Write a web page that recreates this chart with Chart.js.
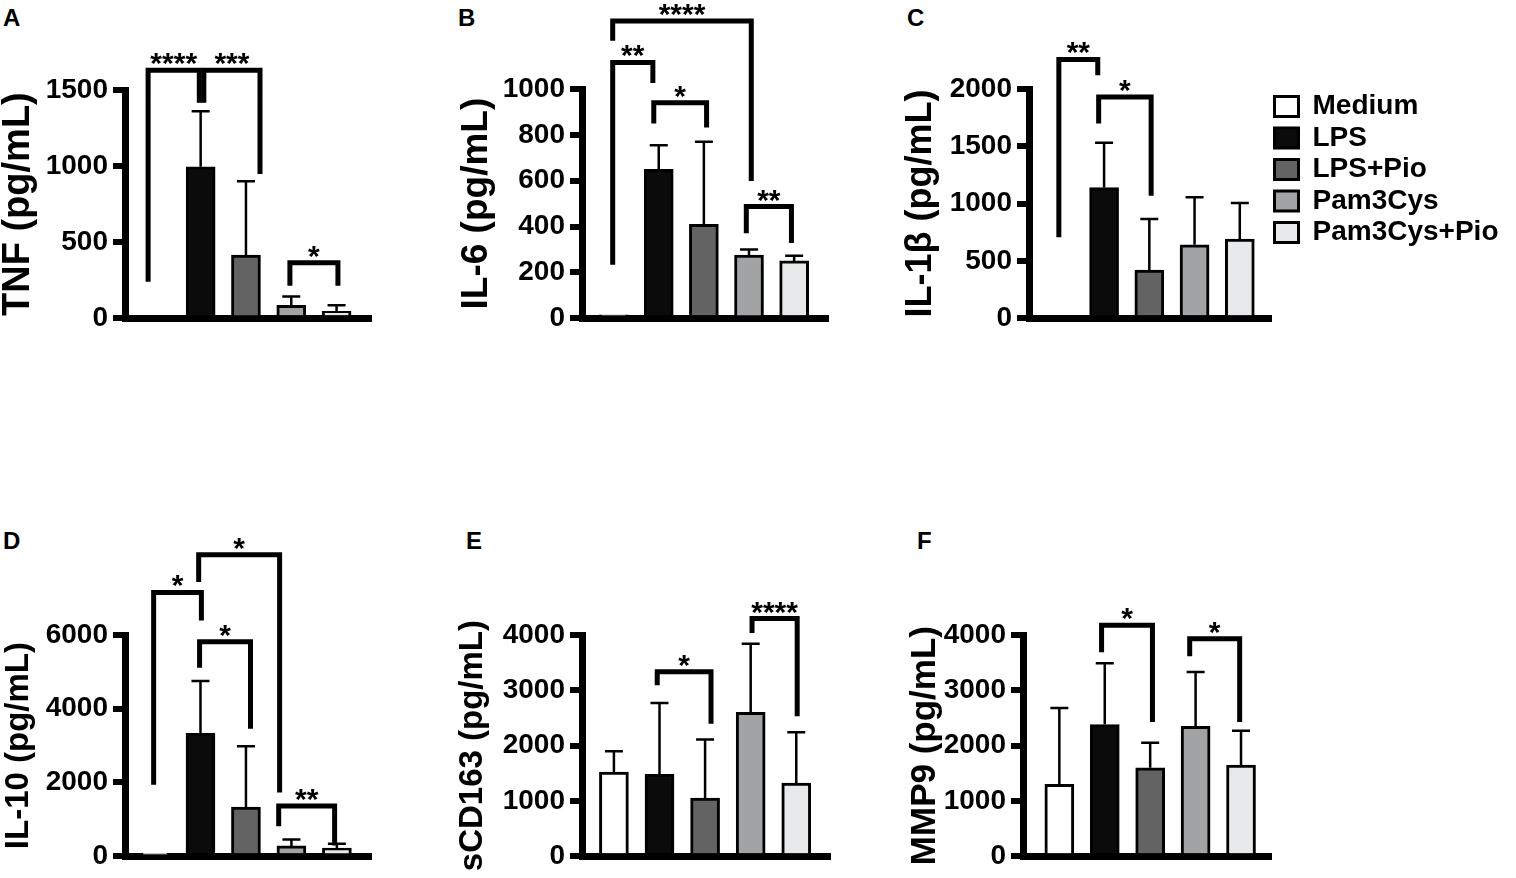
<!DOCTYPE html>
<html>
<head>
<meta charset="utf-8">
<script src="https://cdn.jsdelivr.net/npm/chart.js@4.4.1/dist/chart.umd.min.js"></script>
<style>
  body { margin: 0; background: #fff; }
  #fig { position: relative; width: 1516px; height: 878px; overflow: hidden; }
  canvas { position: absolute; }
  .tag { position: absolute; font: bold 24px "Liberation Sans", Arial, sans-serif; color: #000; }
</style>
</head>
<body>
<div id="fig">
  <div class="tag" style="left:3px;top:4px">A</div>
  <div class="tag" style="left:458px;top:4px">B</div>
  <div class="tag" style="left:907px;top:4px">C</div>
  <div class="tag" style="left:3px;top:527px">D</div>
  <div class="tag" style="left:466px;top:527px">E</div>
  <div class="tag" style="left:917px;top:527px">F</div>
  <canvas id="pA" width="380" height="340" style="left:0;top:0"></canvas>
  <canvas id="pB" width="390" height="340" style="left:450px;top:0"></canvas>
  <canvas id="pC" width="616" height="340" style="left:900px;top:0"></canvas>
  <canvas id="pD" width="380" height="358" style="left:0;top:520px"></canvas>
  <canvas id="pE" width="390" height="358" style="left:450px;top:520px"></canvas>
  <canvas id="pF" width="380" height="358" style="left:900px;top:520px"></canvas>
</div>
<script>
// groups, same order in every panel
const groups = ['Medium', 'LPS', 'LPS+Pio', 'Pam3Cys', 'Pam3Cys+Pio']
const fills = ['#ffffff', '#0b0b0b', '#636363', '#a2a3a5', '#e8e9ea']

// mean and SD (pg/mL)
const tnfMean = [0, 995, 415, 85, 45]
const tnfSd = [0, 365, 485, 58, 40]
const il6Mean = [15, 650, 410, 275, 250]
const il6Sd = [0, 105, 360, 25, 22]
const il1bMean = [0, 1140, 420, 640, 690]
const il1bSd = [0, 390, 445, 415, 315]
const il10Mean = [40, 3330, 1330, 280, 220]
const il10Sd = [0, 1420, 1650, 170, 120]
const cd163Mean = [1520, 1480, 1050, 2600, 1320]
const cd163Sd = [380, 1290, 1060, 1240, 920]
const mmp9Mean = [1300, 2380, 1600, 2350, 1650]
const mmp9Sd = [1380, 1110, 450, 980, 620]

// significance brackets: [from group, to group, bar level, left leg end, right leg end, label]
const tnfSig = [
  [-0.16, 0.97, 1630, 240, 1416, '****'],
  [1.07, 2.31, 1630, 1416, 948, '***'],
  [2.97, 4.03, 364, 214, 214, '*']
]
const il6Sig = [
  [-0.02, 3.05, 1297, 1211, 599, '****'],
  [-0.02, 0.87, 1116, 233, 1026, '**'],
  [0.89, 2.06, 940, 850, 832, '*'],
  [2.94, 3.94, 487, 371, 328, '**']
]
const il1bSig = [
  [0, 0.86, 2258, 707, 2121, '**'],
  [0.88, 2.04, 1931, 1698, 1069, '*']
]
const il10Sig = [
  [0.96, 2.74, 8174, 7441, 1729, '*'],
  [-0.03, 1.02, 7153, 1939, 6393, '*'],
  [0.98, 2.1, 5816, 5109, 3458, '*'],
  [2.72, 3.95, 1362, 812, 288, '**']
]
const cd163Sig = [
  [0.95, 2.13, 3337, 3092, 2393, '*'],
  [3.03, 4.02, 4297, 4035, 2533, '****']
]
const mmp9Sig = [
  [0.93, 2.05, 4175, 3686, 2428, '*'],
  [2.87, 3.97, 3931, 3616, 2428, '*']
]

Chart.defaults.font.family = '"Liberation Sans", Arial, sans-serif'
Chart.defaults.font.weight = 'bold'
Chart.defaults.color = '#000'

// upward SD whiskers with a cap
const errorBars = {
  id: 'errorBars',
  afterDatasetsDraw(chart) {
    const ctx = chart.ctx
    const y = chart.scales.y
    const ds = chart.data.datasets[0]
    chart.getDatasetMeta(0).data.forEach((bar, i) => {
      const sd = ds.sd[i]
      if (!sd) return
      const top = y.getPixelForValue(ds.data[i].y + sd)
      ctx.save()
      ctx.strokeStyle = '#000'
      ctx.lineWidth = 2.5
      ctx.beginPath()
      ctx.moveTo(bar.x, bar.y)
      ctx.lineTo(bar.x, top)
      ctx.moveTo(bar.x - 9, top)
      ctx.lineTo(bar.x + 9, top)
      ctx.stroke()
      ctx.restore()
    })
  }
}

// comparison brackets with stars
const brackets = {
  id: 'brackets',
  afterDraw(chart, args, opts) {
    const ctx = chart.ctx
    const xs = chart.scales.x, ys = chart.scales.y
    ctx.save()
    ctx.strokeStyle = '#000'
    ctx.fillStyle = '#000'
    ctx.lineWidth = 5
    ctx.lineJoin = 'miter'
    ctx.font = 'bold 30px "Liberation Sans", Arial, sans-serif'
    ctx.textAlign = 'center'
    ctx.textBaseline = 'alphabetic'
    opts.items.forEach(b => {
      const x1 = xs.getPixelForValue(b[0]), x2 = xs.getPixelForValue(b[1])
      const yt = ys.getPixelForValue(b[2])
      ctx.beginPath()
      ctx.moveTo(x1, ys.getPixelForValue(b[3]))
      ctx.lineTo(x1, yt)
      ctx.lineTo(x2, yt)
      ctx.lineTo(x2, ys.getPixelForValue(b[4]))
      ctx.stroke()
      ctx.fillText(b[5], (x1 + x2) / 2, yt + 3)
    })
    ctx.restore()
  }
}

function makePanel(id, p) {
  const legend = p.legend ? {
    display: true,
    position: 'right',
    align: 'start',
    maxWidth: 300,
    labels: {
      boxWidth: 24,
      boxHeight: 20,
      padding: 3.5,
      color: '#000',
      font: { size: 28, weight: 'bold' },
      generateLabels: () => groups.map((g, i) => ({
        text: g, fillStyle: fills[i], strokeStyle: '#000', lineWidth: 3,
        hidden: false, index: i, fontColor: '#000'
      }))
    }
  } : { display: false }

  new Chart(document.getElementById(id), {
    type: 'bar',
    data: {
      datasets: [{
        data: p.mean.map((v, i) => ({ x: i, y: v })),
        sd: p.sd,
        backgroundColor: fills,
        borderColor: '#000',
        borderWidth: 3,
        borderSkipped: 'bottom',
        barThickness: 29
      }]
    },
    options: {
      responsive: false,
      animation: false,
      layout: { padding: p.pad },
      plugins: {
        legend: legend,
        tooltip: { enabled: false },
        brackets: { items: p.sig }
      },
      scales: {
        x: {
          type: 'linear',
          offset: false,
          min: p.xMin,
          max: p.xMax,
          ticks: { display: false },
          grid: { display: false },
          border: { display: true, width: 7, color: '#000' },
          afterFit: s => { s.height = 0 }
        },
        y: {
          min: 0,
          max: p.max,
          ticks: {
            stepSize: p.step, padding: 5, color: '#000',
            font: { size: 28, weight: 'bold' },
            callback: v => String(v)
          },
          grid: { drawOnChartArea: false, drawTicks: true, tickLength: 12, lineWidth: 6, color: '#000' },
          border: { display: true, width: 7, color: '#000' },
          title: { display: true, text: p.title, color: '#000', padding: 0, font: { size: p.titleSize, weight: 'bold', lineHeight: 1 } },
          afterFit: s => { s.width = p.yWidth }
        }
      }
    },
    plugins: [errorBars, brackets]
  })
}

makePanel('pA', { mean: tnfMean, sd: tnfSd, sig: tnfSig, title: 'TNF (pg/mL)', titleSize: 38,
  max: 1500, step: 500, pad: { top: 90, bottom: 19, left: 0, right: 9 }, yWidth: 125, xMin: -0.67, xMax: 4.76 })
makePanel('pB', { mean: il6Mean, sd: il6Sd, sig: il6Sig, title: 'IL-6 (pg/mL)', titleSize: 37,
  max: 1000, step: 200, pad: { top: 89, bottom: 19, left: 8, right: 12 }, yWidth: 124, xMin: -0.70, xMax: 4.75 })
makePanel('pC', { mean: il1bMean, sd: il1bSd, sig: il1bSig, title: 'IL-1β (pg/mL)', titleSize: 36, legend: true,
  max: 2000, step: 500, pad: { top: 89, bottom: 19, left: 3, right: 7.5 }, yWidth: 126, xMin: -0.66, xMax: 4.69 })
makePanel('pD', { mean: il10Mean, sd: il10Sd, sig: il10Sig, title: 'IL-10 (pg/mL)', titleSize: 33,
  max: 6000, step: 2000, pad: { top: 115, bottom: 14, left: 2, right: 9 }, yWidth: 123, xMin: -0.66, xMax: 4.75 })
makePanel('pE', { mean: cd163Mean, sd: cd163Sd, sig: cd163Sig, title: 'sCD163 (pg/mL)', titleSize: 33,
  max: 4000, step: 1000, pad: { top: 115, bottom: 14, left: 6, right: 10 }, yWidth: 126, xMin: -0.70, xMax: 4.74 })
makePanel('pF', { mean: mmp9Mean, sd: mmp9Sd, sig: mmp9Sig, title: 'MMP9 (pg/mL)', titleSize: 35,
  max: 4000, step: 1000, pad: { top: 115, bottom: 14, left: 8, right: 9 }, yWidth: 115, xMin: -0.80, xMax: 4.66 })
</script>
</body>
</html>
